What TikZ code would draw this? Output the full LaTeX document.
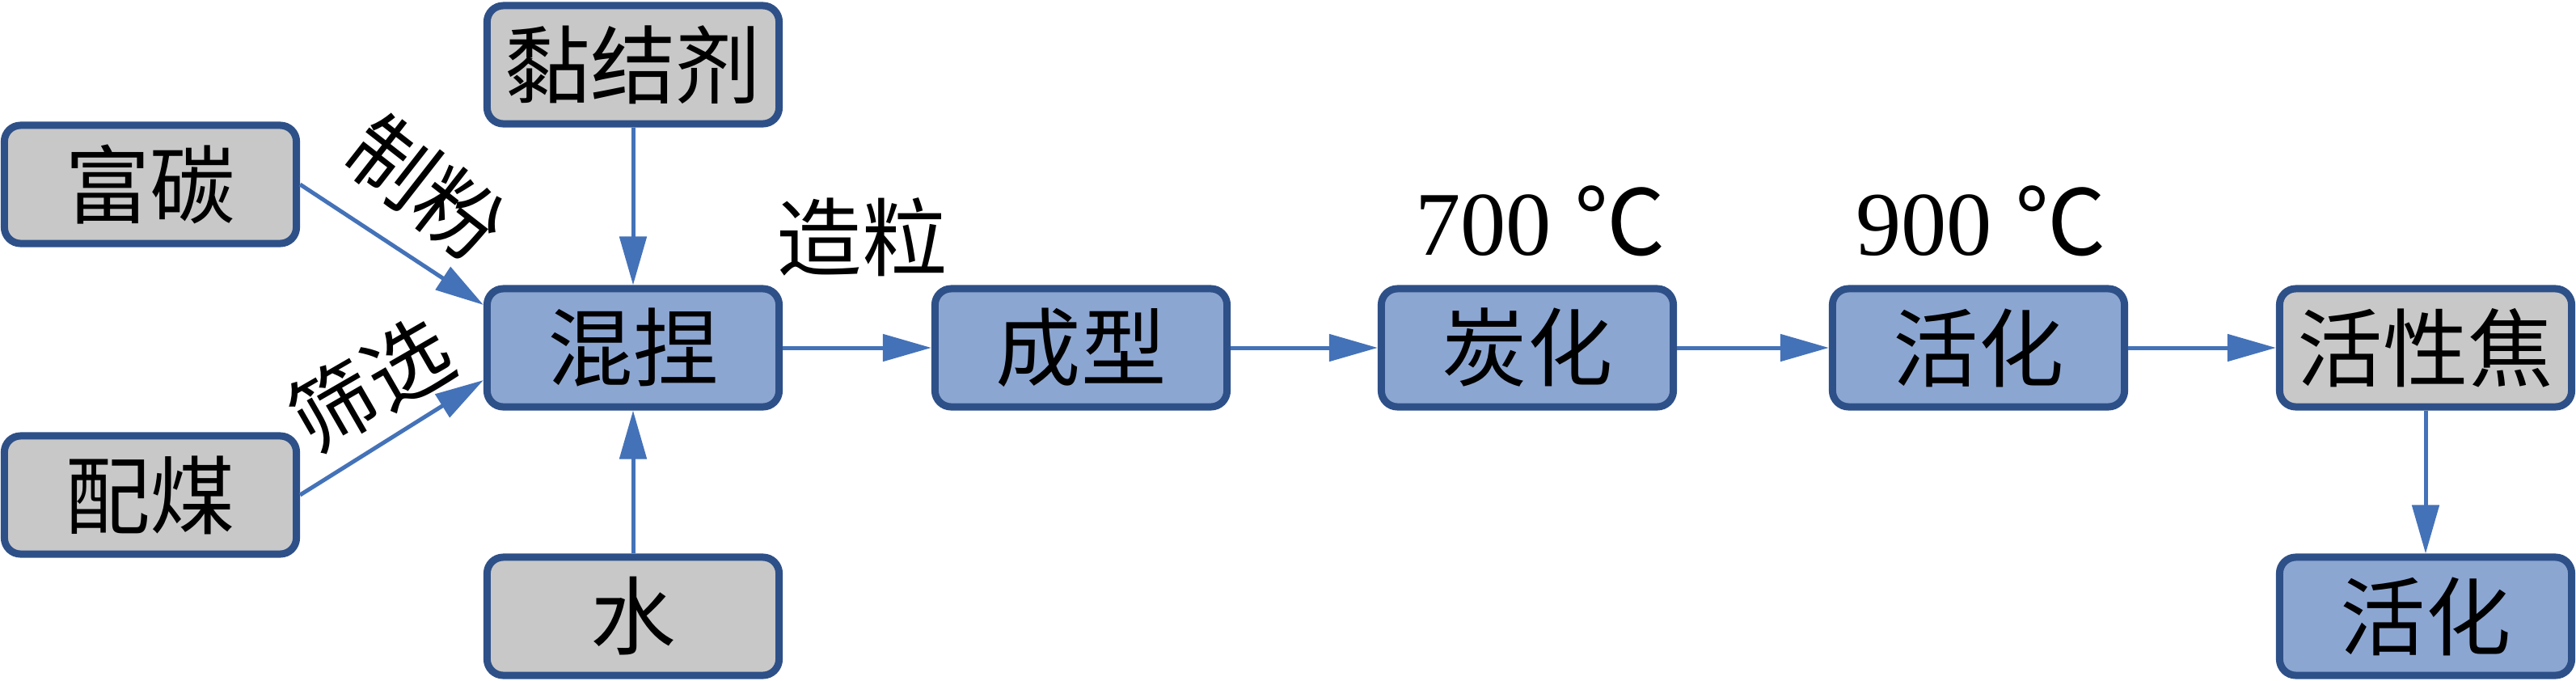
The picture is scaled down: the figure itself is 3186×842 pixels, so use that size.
\documentclass[tikz,border=0pt]{standalone}
\usepackage{fontspec}
\setmainfont{Liberation Serif}
\newfontfamily\cjk{Noto Sans CJK SC}
\usetikzlibrary{arrows.meta}
\definecolor{bordc}{HTML}{2E5088}
\definecolor{grayf}{HTML}{C8C8C8}
\definecolor{bluef}{HTML}{8CA6D2}
\definecolor{arrc}{HTML}{4472B8}
\tikzset{
  box/.style={draw=bordc, line width=0.09cm, rounded corners=0.2cm,
    minimum width=3.61cm, minimum height=1.46cm, inner sep=0pt,
    font=\cjk\fontsize{30}{30}\selectfont, text=black},
  gbox/.style={box, fill=grayf},
  bbox/.style={box, fill=bluef},
  arr/.style={draw=arrc, line width=0.05cm,
    -{Triangle[length=0.6cm,width=0.33cm]}, color=arrc},
  lab/.style={inner sep=0pt, font=\cjk\fontsize{30}{30}\selectfont},
  temp/.style={inner sep=0pt, font=\fontsize{32}{32}\selectfont}
}
\begin{document}
\begin{tikzpicture}[x=0.01cm, y=-0.01cm]
\useasboundingbox (0,0) rectangle (3186,842);
% boxes
\node[gbox] (fu)  at (186,228) {富碳};
\node[gbox] (pei) at (186,612) {配煤};
\node[gbox] (nian) at (783,80) {黏结剂};
\node[bbox] (mix) at (783,430) {混捏};
\node[gbox] (water) at (783,762) {水};
\node[bbox] (form) at (1337,430) {成型};
\node[bbox] (carb) at (1889,430) {炭化};
\node[bbox] (act) at (2447,430) {活化};
\node[gbox] (coke) at (3000,430) {活性焦};
\node[bbox] (act2) at (3000,762) {活化};
% labels
\node[lab, rotate=-38] (lzf) at (527,232) {制粉};
\node[lab, rotate=30] (lsx) at (458,475) {筛选};
\node[lab] (lzl) at (1066,293) {造粒};
\node[temp] (t700) at (1905,273) {700 {\cjk ℃}};
\node[temp] (t900) at (2450,273) {900 {\cjk ℃}};
% connectors
\draw[arr] (fu.east) -- ([yshift=0.53cm]mix.west);
\draw[arr] (pei.east) -- ([yshift=-0.4cm]mix.west);
\draw[arr] (nian.south) -- (mix.north);
\draw[arr] (water.north) -- (mix.south);
\draw[arr] (mix.east) -- (form.west);
\draw[arr] (form.east) -- (carb.west);
\draw[arr] (carb.east) -- (act.west);
\draw[arr] (act.east) -- (coke.west);
\draw[arr] (coke.south) -- (act2.north);
\end{tikzpicture}
\end{document}
